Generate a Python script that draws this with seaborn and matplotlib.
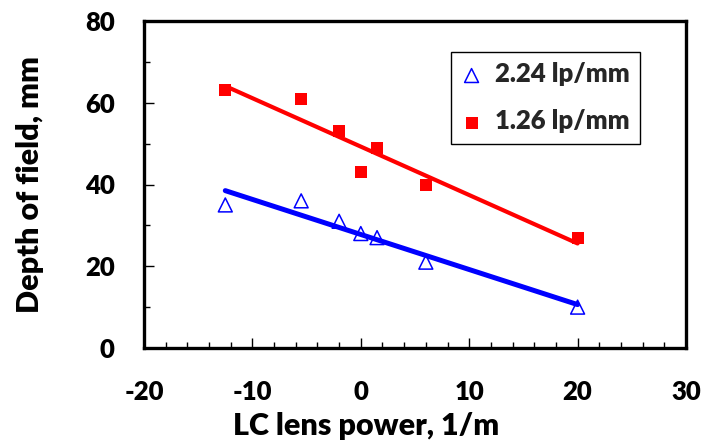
import matplotlib
matplotlib.use("Agg")
import matplotlib.pyplot as plt
from matplotlib.ticker import MultipleLocator
import numpy as np
import pandas as pd
import seaborn as sns

# Depth of field vs. LC lens power for two spatial frequencies
power_224 = [-12.5, -5.5, -2.0, 0.0, 1.5, 6.0, 20.0]
dof_224 = [35, 36, 31, 28, 27, 21, 10]

power_126 = [-12.5, -5.5, -2.0, 1.5, 0.0, 6.0, 20.0]
dof_126 = [63, 61, 53, 49, 43, 40, 27]

label_224 = "2.24 lp/mm"
label_126 = "1.26 lp/mm"

x_ticks = [-20, -10, 0, 10, 20, 30]
y_ticks = [0, 20, 40, 60, 80]

df_224 = pd.DataFrame({"power": power_224, "dof": dof_224})
df_126 = pd.DataFrame({"power": power_126, "dof": dof_126})

sns.set_theme(style="white")
plt.rcParams["font.family"] = ["Lato", "DejaVu Sans"]
plt.rcParams["axes.unicode_minus"] = False

WEIGHT = "heavy"
BLUE = "#0000FF"
RED = "#FF0000"

fig = plt.figure(figsize=(7.04, 4.45), dpi=100)
ax = fig.add_axes([144 / 704, 1 - 348 / 445, (686 - 144) / 704, (348 - 21) / 445])

# markers
sns.scatterplot(data=df_224, x="power", y="dof", marker="^", s=100,
                color=BLUE, label=label_224, ax=ax, zorder=2)
tri = ax.collections[-1]
tri.set_facecolor("none")
tri.set_edgecolor(BLUE)
tri.set_linewidth(1.1)

sns.scatterplot(data=df_126, x="power", y="dof", marker="s", s=74,
                color=RED, edgecolor=RED, linewidth=0, label=label_126,
                ax=ax, zorder=2)

# linear trend lines
sns.regplot(data=df_224, x="power", y="dof", scatter=False, ci=None,
            color=BLUE, line_kws=dict(lw=3.6, zorder=3, solid_capstyle="round"),
            ax=ax)
sns.regplot(data=df_126, x="power", y="dof", scatter=False, ci=None,
            color=RED, line_kws=dict(lw=3.0, zorder=3, solid_capstyle="round"),
            ax=ax)

ax.set_xlim(x_ticks[0], x_ticks[-1])
ax.set_ylim(y_ticks[0], y_ticks[-1])
ax.set_xticks(x_ticks)
ax.set_yticks(y_ticks)
ax.xaxis.set_minor_locator(MultipleLocator(2))
ax.yaxis.set_minor_locator(MultipleLocator(10))

for side in ["left", "right", "top", "bottom"]:
    ax.spines[side].set_visible(True)
    ax.spines[side].set_color("black")
    ax.spines[side].set_linewidth(2.4)

ax.tick_params(axis="both", which="major", direction="in", length=7, width=1.0,
               color="black", labelsize=18.5, labelcolor="black",
               bottom=True, left=True, top=False, right=False)
ax.tick_params(axis="x", which="major", pad=23)
ax.tick_params(axis="y", which="major", pad=21)
ax.tick_params(axis="both", which="minor", direction="in", length=4, width=1.0,
               color="black", bottom=True, left=True, top=False, right=False)
for lbl in ax.get_xticklabels() + ax.get_yticklabels():
    lbl.set_fontweight(WEIGHT)

ax.set_xlabel("LC lens power, 1/m", fontsize=22, fontweight=WEIGHT, color="black")
ax.set_ylabel("Depth of field, mm", fontsize=22, fontweight=WEIGHT, color="black")
ax.xaxis.set_label_coords((366 - 144) / 542, (348 - 412) / 327)
ax.yaxis.set_label_coords((44 - 144) / 542, 0.5)

leg = ax.legend(loc="upper left", bbox_to_anchor=((451 - 144) / 542, (348 - 52) / 327),
                borderaxespad=0, frameon=True, fancybox=False, shadow=False,
                prop=dict(size=18.5, weight=WEIGHT), handlelength=0.8,
                handletextpad=0.5, borderpad=0.4, labelspacing=0.9,
                markerscale=1.0)
leg.get_frame().set_edgecolor("black")
leg.get_frame().set_linewidth(1.0)
leg.get_frame().set_facecolor("white")
leg.get_frame().set_alpha(1)

fig.savefig("out.png", dpi=100, facecolor="white")
